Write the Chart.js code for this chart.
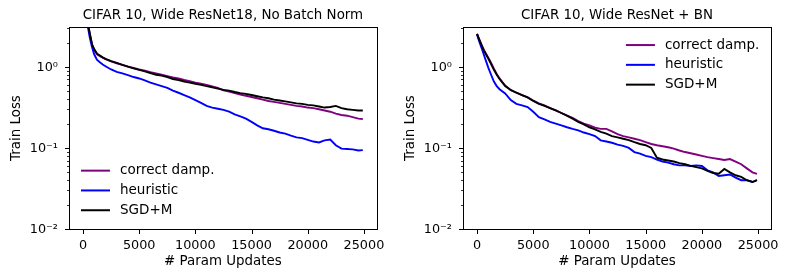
<!DOCTYPE html>
<html>
<head>
<meta charset="utf-8">
<script src="https://cdn.jsdelivr.net/npm/chart.js@4.4.0/dist/chart.umd.min.js"></script>
<style>
  body { margin: 0; background: #fff; }
  #wrap { display: flex; width: 789px; height: 280px; }
  canvas { display: block; }
</style>
</head>
<body>
<div id="wrap">
  <canvas id="left" width="394" height="280"></canvas>
  <canvas id="right" width="395" height="280"></canvas>
</div>
<script>
// x values shared by every curve (param updates)
const steps = [0, 200, 400, 600, 800, 1000, 1250, 1500, 1750, 2000,
  2500, 3000, 3500, 4000, 4500, 5000, 5500, 6000, 6500, 7000,
  7500, 8000, 8500, 9000, 9500, 10000, 10500, 11000, 11500, 12000,
  12500, 13000, 13500, 14000, 14500, 15000, 15500, 16000, 16500, 17000,
  17500, 18000, 18500, 19000, 19500, 20000, 20500, 21000, 21500, 22000,
  22500, 23000, 23500, 24000, 24500, 24900];

const seriesNames = ["correct damp.", "heuristic", "SGD+M"];
const seriesColors = ["#800080", "#0000ff", "#000000"];

// left panel
const leftTitle = "CIFAR 10, Wide ResNet18, No Batch Norm";
const leftCorrect = [7.0, 5.0, 3.6, 2.55, 1.88, 1.62, 1.43, 1.36, 1.30, 1.25,
  1.17, 1.11, 1.06, 1.01, 0.97, 0.93, 0.90, 0.86, 0.83, 0.80,
  0.77, 0.74, 0.72, 0.69, 0.665, 0.64, 0.62, 0.60, 0.575, 0.55,
  0.515, 0.495, 0.475, 0.455, 0.44, 0.425, 0.41, 0.395, 0.38, 0.37,
  0.36, 0.35, 0.34, 0.33, 0.325, 0.315, 0.31, 0.30, 0.29, 0.28,
  0.265, 0.255, 0.25, 0.24, 0.23, 0.228];
const leftHeuristic = [7.0, 4.8, 3.3, 2.3, 1.75, 1.42, 1.22, 1.14, 1.07, 1.02,
  0.93, 0.87, 0.83, 0.79, 0.75, 0.72, 0.68, 0.64, 0.61, 0.58,
  0.55, 0.51, 0.48, 0.45, 0.42, 0.39, 0.36, 0.33, 0.315, 0.305,
  0.295, 0.28, 0.26, 0.245, 0.23, 0.21, 0.19, 0.175, 0.17, 0.163,
  0.155, 0.15, 0.142, 0.135, 0.132, 0.126, 0.12, 0.117, 0.124, 0.127,
  0.108, 0.098, 0.097, 0.096, 0.093, 0.094];
const leftSgd = [7.0, 5.0, 3.6, 2.6, 1.9, 1.65, 1.45, 1.38, 1.31, 1.26,
  1.18, 1.12, 1.06, 1.01, 0.96, 0.92, 0.88, 0.84, 0.80, 0.78,
  0.75, 0.71, 0.69, 0.66, 0.64, 0.62, 0.60, 0.58, 0.56, 0.54,
  0.52, 0.51, 0.49, 0.475, 0.465, 0.45, 0.435, 0.42, 0.41, 0.395,
  0.385, 0.375, 0.365, 0.355, 0.35, 0.34, 0.335, 0.325, 0.315, 0.32,
  0.33, 0.31, 0.30, 0.295, 0.29, 0.29];

// right panel
const rightTitle = "CIFAR 10, Wide ResNet + BN";
const rightCorrect = [2.55, 2.18, 1.88, 1.63, 1.45, 1.30, 1.12, 0.95, 0.82, 0.72,
  0.59, 0.515, 0.48, 0.45, 0.42, 0.385, 0.355, 0.335, 0.31, 0.29,
  0.27, 0.25, 0.235, 0.215, 0.20, 0.19, 0.178, 0.172, 0.172, 0.16,
  0.148, 0.14, 0.135, 0.13, 0.125, 0.118, 0.112, 0.108, 0.105, 0.102,
  0.098, 0.093, 0.089, 0.086, 0.083, 0.080, 0.077, 0.075, 0.073, 0.071,
  0.073, 0.068, 0.063, 0.056, 0.050, 0.048];
const rightHeuristic = [2.5, 2.05, 1.72, 1.42, 1.18, 0.98, 0.80, 0.66, 0.58, 0.53,
  0.47, 0.39, 0.35, 0.335, 0.32, 0.28, 0.24, 0.225, 0.21, 0.20,
  0.19, 0.18, 0.172, 0.165, 0.155, 0.148, 0.14, 0.124, 0.12, 0.116,
  0.11, 0.106, 0.10, 0.089, 0.085, 0.08, 0.077, 0.072, 0.068, 0.066,
  0.063, 0.061, 0.061, 0.06, 0.061, 0.06, 0.053, 0.05, 0.045, 0.046,
  0.047, 0.043, 0.04, 0.04, 0.038, 0.04];
const rightSgd = [2.55, 2.15, 1.85, 1.6, 1.42, 1.27, 1.08, 0.92, 0.80, 0.71,
  0.58, 0.52, 0.48, 0.45, 0.42, 0.38, 0.35, 0.33, 0.31, 0.29,
  0.27, 0.25, 0.23, 0.21, 0.195, 0.18, 0.17, 0.158, 0.15, 0.14,
  0.135, 0.13, 0.125, 0.118, 0.112, 0.108, 0.10, 0.076, 0.072, 0.07,
  0.068, 0.065, 0.063, 0.06, 0.058, 0.056, 0.052, 0.049, 0.048, 0.055,
  0.05, 0.046, 0.044, 0.04, 0.038, 0.04];

// axes
const xTicks = [0, 5000, 10000, 15000, 20000, 25000];
const xMin = -1250, xMax = 26150;
const yMin = 0.01, yMax = 3.1;
const yMajor = [0.01, 0.1, 1];
const yLabels = ["10\u207B\u00B2", "10\u207B\u00B9", "10\u2070"];

// log ticks: every k * 10^n inside the axis range
const yTickValues = [];
yMajor.forEach((d) => {
  for (let k = 1; k <= 9; k++) {
    if (k * d <= yMax) yTickValues.push(k === 1 ? d : k * d);
  }
});

const FONT = "DejaVu Sans";
const TICK_SIZE = 12.8;
const LABEL_SIZE = 13.4;
Chart.defaults.font.family = FONT;
Chart.defaults.font.size = TICK_SIZE;
Chart.defaults.color = "#000";

// matplotlib-like box and outward tick marks
const framePlugin = {
  id: "frame",
  afterDraw(chart) {
    const a = chart.chartArea;
    const ctx = chart.ctx;
    const L = Math.round(a.left), R = Math.round(a.right);
    const T = Math.round(a.top), B = Math.round(a.bottom);
    ctx.save();
    ctx.strokeStyle = "#000";
    ctx.lineWidth = 1;
    ctx.strokeRect(L + 0.5, T + 0.5, R - L, B - T);

    const xs = chart.scales.x;
    xs.ticks.forEach((t) => {
      const px = Math.round(xs.getPixelForValue(t.value)) + 0.5;
      ctx.beginPath();
      ctx.moveTo(px, B + 1);
      ctx.lineTo(px, B + 5);
      ctx.stroke();
    });

    const ys = chart.scales.y;
    ys.ticks.forEach((t) => {
      const major = yMajor.includes(t.value);
      const py = Math.round(ys.getPixelForValue(t.value)) + 0.5;
      ctx.lineWidth = major ? 1 : 0.8;
      ctx.beginPath();
      ctx.moveTo(L + 0.5, py);
      ctx.lineTo(L + 0.5 - (major ? 4.5 : 2.5), py);
      ctx.stroke();
    });
    ctx.restore();
  },
};

// legend drawn inside the plot area
const inLegend = {
  id: "inLegend",
  afterDraw(chart, args, opts) {
    const a = chart.chartArea;
    const ctx = chart.ctx;
    const x = a.left + opts.fx * (a.right - a.left);
    let y = a.top + opts.fy * (a.bottom - a.top);
    ctx.save();
    ctx.font = `13.5px "${FONT}"`;
    ctx.textBaseline = "middle";
    ctx.fillStyle = "#000";
    chart.data.datasets.forEach((ds) => {
      ctx.strokeStyle = ds.borderColor;
      ctx.lineWidth = 2;
      ctx.beginPath();
      ctx.moveTo(x, y);
      ctx.lineTo(x + 29, y);
      ctx.stroke();
      ctx.fillText(ds.label, x + 39, y);
      y += 19.8;
    });
    ctx.restore();
  },
};

function makeChart(id, title, values, legendPos, padRight) {
  const datasets = values.map((arr, i) => ({
    label: seriesNames[i],
    data: steps.map((s, j) => ({ x: s, y: arr[j] })),
    borderColor: seriesColors[i],
    borderWidth: 1.9,
    pointRadius: 0,
    tension: 0,
    clip: 0,
    order: 3 - i,
  }));

  return new Chart(document.getElementById(id), {
    type: "line",
    data: { datasets },
    plugins: [framePlugin, inLegend],
    options: {
      responsive: false,
      animation: false,
      layout: { padding: { left: 0, right: padRight, top: 0, bottom: 0 } },
      plugins: {
        legend: { display: false },
        tooltip: { enabled: false },
        title: {
          display: true,
          fullSize: false,
          text: title,
          color: "#000",
          font: { size: LABEL_SIZE, weight: "normal" },
          padding: { top: 7, bottom: 4 },
        },
        inLegend: legendPos,
      },
      scales: {
        x: {
          type: "linear",
          min: xMin,
          max: xMax,
          afterBuildTicks: (s) => { s.ticks = xTicks.map((v) => ({ value: v })); },
          afterFit: (s) => { s.height = 51; },
          ticks: {
            autoSkip: false,
            maxRotation: 0,
            padding: 9,
            color: "#000",
            callback: (v) => String(v),
          },
          grid: { display: false, drawTicks: false },
          border: { display: false },
          title: {
            display: true,
            text: "# Param Updates",
            color: "#000",
            font: { size: LABEL_SIZE },
            padding: 10,
          },
        },
        y: {
          type: "logarithmic",
          min: yMin,
          max: yMax,
          afterBuildTicks: (s) => {
            s.ticks = yTickValues.map((v) => ({ value: v, major: yMajor.includes(v) }));
          },
          afterFit: (s) => { s.width = 69; },
          ticks: {
            autoSkip: false,
            padding: 11,
            labelOffset: 1,
            color: "#000",
            callback: (v) => {
              const k = yMajor.indexOf(v);
              return k >= 0 ? yLabels[k] : "";
            },
          },
          grid: { display: false, drawTicks: false },
          border: { display: false },
          title: {
            display: true,
            text: "Train Loss",
            color: "#000",
            font: { size: LABEL_SIZE },
            padding: 8,
          },
        },
      },
    },
  });
}

makeChart("left", leftTitle, [leftCorrect, leftHeuristic, leftSgd], { fx: 0.039, fy: 0.711 }, 17);
makeChart("right", rightTitle, [rightCorrect, rightHeuristic, rightSgd], { fx: 0.529, fy: 0.089 }, 18);
</script>
</body>
</html>
